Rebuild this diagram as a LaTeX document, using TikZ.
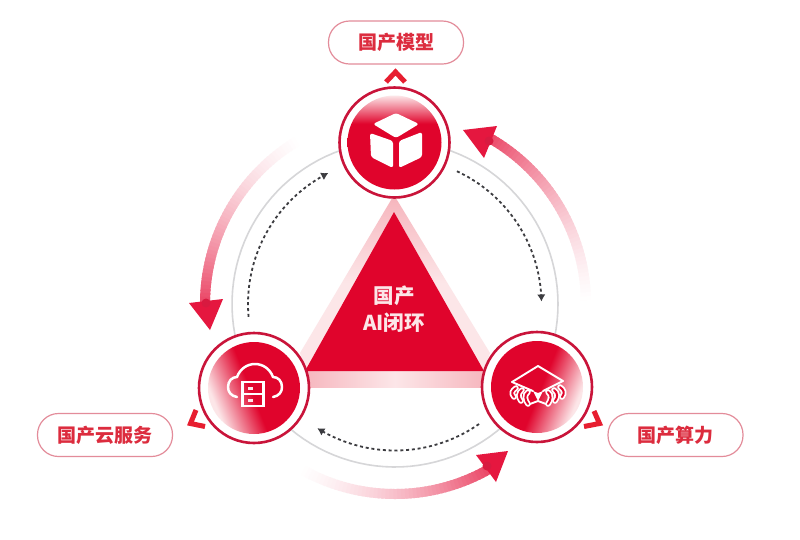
\documentclass[tikz,border=0pt]{standalone}
\usepackage{fontspec}
\setmainfont{Noto Sans CJK SC}
\usetikzlibrary{arrows.meta}
\definecolor{mainred}{HTML}{E0042C}
\definecolor{headred}{HTML}{E5173F}
\definecolor{spotred}{HTML}{D81A40}
\definecolor{chevred}{HTML}{E71E30}
\definecolor{ringred}{HTML}{C9143A}
\definecolor{textred}{HTML}{DC2C3E}
\definecolor{pillline}{HTML}{E38C9A}
\definecolor{ringgrey}{HTML}{D6D6D8}
\definecolor{dotgrey}{HTML}{3C3C40}
\definecolor{paleA}{HTML}{F6B4BC}
\definecolor{paleB}{HTML}{FCE6E8}
\pgfdeclareverticalshading{discfade}{100bp}{color(0bp)=(mainred); color(50bp)=(mainred); color(60bp)=(mainred); color(75bp)=(paleB); color(100bp)=(paleB)}
\pgfdeclareverticalshading{discfadeb}{100bp}{color(0bp)=(mainred); color(50bp)=(mainred); color(52bp)=(mainred); color(73bp)=(paleB); color(100bp)=(paleB)}
\tikzset{
  pill/.style={draw=pillline,line width=1.2pt,rounded corners=21pt,fill=white,minimum width=135pt,minimum height=43pt,text=textred,font=\fontsize{19}{22}\selectfont\bfseries,inner sep=0pt},
  discring/.style={circle,draw=ringred,line width=2.6pt,fill=white,minimum size=110pt,inner sep=0pt},
  greyring/.style={draw=ringgrey,line width=1.6pt},
  dotarc/.style={draw=dotgrey,line width=1.8pt,dash pattern=on 3pt off 2.8pt,-{Latex[length=7pt,width=8.5pt]}},
  chevron/.style={draw=chevred,line width=5pt,miter limit=10},
  iconline/.style={draw=white,line width=2.5pt,line join=round,line cap=round},
  legouter/.style={draw=white,line width=5.6pt,line cap=round},
  leginner/.style={draw=mainred,line width=2pt,line cap=round},
  head/.style={fill=headred,draw=none},
}
% #1 start angle, #2 end angle, #3 radius
\newcommand{\fadearc}[3]{%
  \foreach \i in {0,...,49}{%
    \pgfmathsetmacro{\aa}{#1+(#2-#1)*\i/50}%
    \pgfmathsetmacro{\ab}{#1+(#2-#1)*(\i+1.6)/50}%
    \pgfmathsetmacro{\pp}{min(78,\i*\i/50*1.0+\i*0.6)}%
    \edef\temp{\noexpand\draw[line width=10pt,draw=headred!\pp!white]
      plot[domain=\aa:\ab,samples=4,smooth] (\noexpand\x:#3);}\temp
  }%
}
\newcommand{\finger}[4]{%
  \draw[legouter] (#1,#2) .. controls ({#1-4},{#2+3}) and ({#3-3},{#4-4}) .. (#3,#4);
  \draw[leginner] (#1,#2) .. controls ({#1-4},{#2+3}) and ({#3-3},{#4-4}) .. (#3,#4);
}
\newcommand{\fingerr}[4]{%
  \draw[legouter] (#1,#2) .. controls ({#1+4},{#2+3}) and ({#3+3},{#4-4}) .. (#3,#4);
  \draw[leginner] (#1,#2) .. controls ({#1+4},{#2+3}) and ({#3+3},{#4-4}) .. (#3,#4);
}
\begin{document}
\begin{tikzpicture}[x=1pt,y=-1pt]
\useasboundingbox (0,0) rectangle (800,539);
\fill[white] (0,0) rectangle (800,539);
\coordinate (ringc) at (395,304);

% grey ring
\begin{scope}[shift={(ringc)}]
  \draw[greyring] plot[domain=0:360,samples=120] (\x:163);
  % fading arrows
  \fadearc{0}{-60}{191}
  \fadearc{240}{181}{190}
  \fadearc{120}{61}{190}
  % dotted arrows
  \draw[dotarc] plot[domain=-65:-1,samples=40] (\x:146.5);
  \draw[dotarc] plot[domain=55:122,samples=40] (\x:146.5);
  \draw[dotarc] plot[domain=175:243,samples=40] (\x:147);
\end{scope}

% arrow heads
\fill[head] (463,130) -- (497,126) -- (484,158) -- cycle;
\fill[head] (189,303) -- (223,299) -- (210,330) -- cycle;
\fill[head] (476,455) -- (508,451) -- (496,482) -- cycle;
\fill[spotred] (489,141) circle[radius=4.5pt];
\fill[spotred] (206,303) circle[radius=4.5pt];
\fill[spotred] (487,466) circle[radius=4.5pt];

% triangle strips
\shade[top color=paleA,bottom color=paleB,middle color=paleB] (394,195) -- (300,353) -- (307,371) -- (394,212) -- cycle;
\shade[top color=paleA,bottom color=paleB,middle color=paleB] (394,195) -- (490,353) -- (484,371) -- (394,212) -- cycle;
\shade[left color=paleA,right color=paleA,middle color=paleB] (300,371) rectangle (490,387);
% main triangle
\fill[mainred] (394,212) -- (484,371) -- (305,371) -- cycle;
\node[text=paleB,align=center,font=\fontsize{20.5}{27}\selectfont\bfseries] (tritext) at (394,309) {国产\\AI闭环};

% discs
\node[discring] (model) at (394.5,142.5) {};
\node[discring] (cloud) at (254,388) {};
\node[discring] (chip) at (537,387) {};
\shade[shading=discfade] (model) circle[radius=47pt];
\shade[shading=discfadeb,shading angle=112] (cloud) circle[radius=46pt];
\shade[shading=discfadeb,shading angle=-112] (chip) circle[radius=46pt];

% pills
\node[pill] (lmodel) at (396,42.5) {国产模型};
\node[pill] (lcloud) at (105,435) {国产云服务};
\node[pill] (lchip) at (675.5,435) {国产算力};

% chevrons
\draw[chevron] (386,82) -- (395.5,72) -- (405,82);
\draw[chevron] (196,410) -- (190.5,423.5) -- (205,426.5);
\draw[chevron] (594,411) -- (599.5,423.5) -- (584,426.5);

% cube icon
\fill[white,rounded corners=2.5pt] (396,113) -- (419,124) -- (396,138) -- (373,124) -- cycle;
\fill[white,rounded corners=2.5pt] (370,133) -- (393,141) -- (393,168) -- (371,157) -- cycle;
\fill[white,rounded corners=2.5pt] (422,132) -- (399,141) -- (399,168) -- (422,157) -- cycle;

% cloud icon
\draw[iconline] (237,397) .. controls (231,396) and (228,392) .. (228,387) .. controls (228,381) and (232,377) .. (237,377)
  .. controls (240,369) and (247,364) .. (255,364) .. controls (263,364) and (270,369) .. (273,377)
  .. controls (278,377) and (282,381) .. (282,387) .. controls (282,392) and (279,396) .. (273,397);
\draw[iconline,line cap=butt,line join=miter,line width=2.6pt] (242.5,382) rectangle (263.5,406);
\draw[iconline,line cap=butt] (242.5,394) -- (263.5,394);
\fill[paleB] (248,387) rectangle (252.5,390);
\fill[paleB] (248,398.5) rectangle (252.5,401.5);

% chip icon
\draw[iconline,line width=1.9pt] (512,382) -- (538,366) -- (563,381);
\draw[iconline,line width=1.9pt] (512,382) -- (533,391) (563,381) -- (543,391);
\fill[white] (533,391) -- (538,393) -- (543,391) -- (538,401) -- cycle;
\finger{516}{388}{514}{397}
\finger{522}{390}{521}{401}
\finger{528}{392}{528}{404}
\fingerr{560}{387}{562}{397}
\fingerr{554}{390}{555}{401}
\fingerr{548}{392}{548}{404}
\draw[iconline,line width=1.9pt] (530,404) -- (538,401) -- (546,404);
\end{tikzpicture}
\end{document}
